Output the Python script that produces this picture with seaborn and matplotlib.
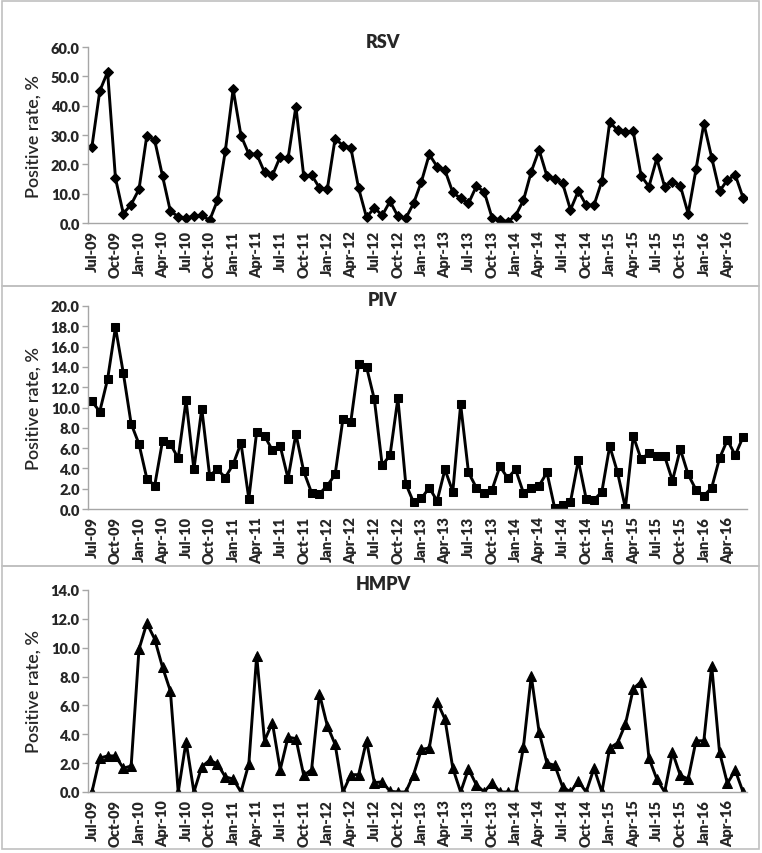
import numpy as np
import pandas as pd
import seaborn as sns
import matplotlib.pyplot as plt
from matplotlib.patches import Rectangle

# monthly positive rates, Jul-09 .. Jun-16
tick_labels = ['Jul-09', 'Oct-09', 'Jan-10', 'Apr-10', 'Jul-10', 'Oct-10', 'Jan-11', 'Apr-11',
               'Jul-11', 'Oct-11', 'Jan-12', 'Apr-12', 'Jul-12', 'Oct-12', 'Jan-13', 'Apr-13',
               'Jul-13', 'Oct-13', 'Jan-14', 'Apr-14', 'Jul-14', 'Oct-14', 'Jan-15', 'Apr-15',
               'Jul-15', 'Oct-15', 'Jan-16', 'Apr-16']

rsv = [26.0, 45.0, 51.5, 15.3, 3.2, 6.3, 11.5, 29.8, 28.2, 16.0, 4.0, 2.2, 1.7, 2.3, 2.6, 0.9,
       7.7, 24.5, 45.6, 29.8, 23.5, 23.5, 17.3, 16.2, 22.6, 22.0, 39.7, 15.9, 16.4, 12.0, 11.5, 28.8,
       26.4, 25.7, 11.8, 1.9, 5.2, 2.6, 7.4, 2.3, 1.6, 6.7, 14.1, 23.4, 19.2, 18.0, 10.4, 8.4,
       6.7, 12.5, 10.7, 1.8, 1.0, 0.5, 2.5, 7.7, 17.5, 24.9, 16.0, 15.0, 13.5, 4.5, 10.9, 6.1,
       6.1, 14.3, 34.4, 31.6, 31.1, 31.2, 16.1, 12.4, 22.0, 12.4, 14.1, 12.7, 3.2, 18.3, 33.9, 22.3,
       10.8, 14.7, 16.4, 8.6]

piv = [10.6, 9.6, 12.8, 17.9, 13.4, 8.4, 6.4, 3.0, 2.3, 6.7, 6.4, 5.0, 10.7, 3.9, 9.9, 3.3,
       3.9, 3.1, 4.4, 6.5, 1.0, 7.6, 7.2, 5.8, 6.2, 3.0, 7.4, 3.7, 1.6, 1.5, 2.3, 3.4,
       8.9, 8.6, 14.3, 14.0, 10.8, 4.3, 5.3, 10.9, 2.5, 0.65, 1.05, 2.1, 0.8, 3.9, 1.7, 10.3,
       3.6, 2.1, 1.6, 1.9, 4.2, 3.05, 3.9, 1.6, 2.1, 2.3, 3.6, 0.05, 0.4, 0.7, 4.8, 1.0,
       0.9, 1.7, 6.2, 3.6, 0.1, 7.2, 4.9, 5.5, 5.2, 5.2, 2.8, 5.9, 3.4, 1.9, 1.3, 2.1,
       5.0, 6.8, 5.3, 7.1]

hmpv = [0.0, 2.35, 2.5, 2.5, 1.65, 1.8, 9.9, 11.7, 10.6, 8.65, 7.0, 0.0, 3.5, 0.0, 1.75, 2.2,
        1.95, 1.05, 0.9, 0.0, 1.95, 9.45, 3.55, 4.8, 1.55, 3.8, 3.7, 1.15, 1.55, 6.8, 4.6, 3.3,
        0.0, 1.2, 1.2, 3.55, 0.65, 0.7, 0.05, 0.0, 0.0, 1.2, 2.95, 3.05, 6.25, 5.05, 1.65, 0.0,
        1.6, 0.5, 0.0, 0.65, 0.0, 0.0, 0.0, 3.1, 8.05, 4.15, 2.0, 1.85, 0.35, 0.0, 0.75, 0.0,
        1.65, 0.0, 3.05, 3.4, 4.7, 7.15, 7.65, 2.35, 0.9, 0.0, 2.75, 1.15, 0.9, 3.55, 3.55, 8.75,
        2.75, 0.6, 1.5, 0.0]

sns.set_style('white')
plt.rcParams['font.family'] = ['Lato', 'DejaVu Sans']

W, H = 762, 854
fig = plt.figure(figsize=(W / 100, H / 100), dpi=100)

# name, values, marker, ymax, ystep, axes top/bottom px, box top/bottom px, marker size
panels = [
    ('RSV', rsv, 'D', 60, 10, 48, 224, 2, 287, 5),
    ('PIV', piv, 's', 20, 2, 307, 510, 287, 567, 6),
    ('HMPV', hmpv, '^', 14, 2, 591, 793, 567, 850, 6.5),
]

grey = '#a6a6a6'
for name, vals, mk, ymax, ystep, top, bot, btop, bbot, ms in panels:
    df = pd.DataFrame({'month': np.arange(len(vals)), 'rate': vals})
    ax = fig.add_axes([88 / W, 1 - bot / H, (747 - 88) / W, (bot - top) / H])
    sns.lineplot(data=df, x='month', y='rate', ax=ax, color='black', linewidth=2.1,
                 marker=mk, markersize=ms, markeredgecolor='black', markerfacecolor='black')
    ax.set_xlim(-0.5, len(vals) - 0.5)
    ax.set_ylim(0, ymax)
    yt = np.arange(0, ymax + 0.01, ystep)
    ax.set_yticks(yt)
    ax.set_yticklabels([f'{v:.1f}' for v in yt], fontsize=10.5, fontweight='heavy')
    ax.set_xticks(np.arange(0, len(vals), 3))
    ax.set_xticklabels(tick_labels, rotation=90, fontsize=10.5, fontweight='heavy')
    ax.set_xticks(np.arange(-0.5, len(vals), 3), minor=True)
    ax.tick_params(axis='x', which='major', length=0, pad=5)
    ax.tick_params(axis='x', which='minor', length=4, color=grey, width=1, direction='out')
    ax.tick_params(axis='y', length=4, color=grey, width=1, direction='out', pad=2, left=True)
    for s in ['top', 'right']:
        ax.spines[s].set_visible(False)
    for s in ['left', 'bottom']:
        ax.spines[s].set_color(grey)
        ax.spines[s].set_linewidth(1)
    ax.set_xlabel('')
    ax.set_ylabel('Positive rate, %', fontsize=13, fontweight='semibold')
    ax.yaxis.set_label_coords(-0.07, 0.5)
    fig.text(383 / W, 1 - (top - 6) / H, name, ha='center', va='center',
             fontsize=13, fontweight='heavy')
    fig.add_artist(Rectangle((2 / W, 1 - bbot / H), (759 - 2) / W, (bbot - btop) / H,
                             transform=fig.transFigure, fill=False, ec='#c0c0c0', lw=1.2))

fig.savefig('out.png', dpi=100)
